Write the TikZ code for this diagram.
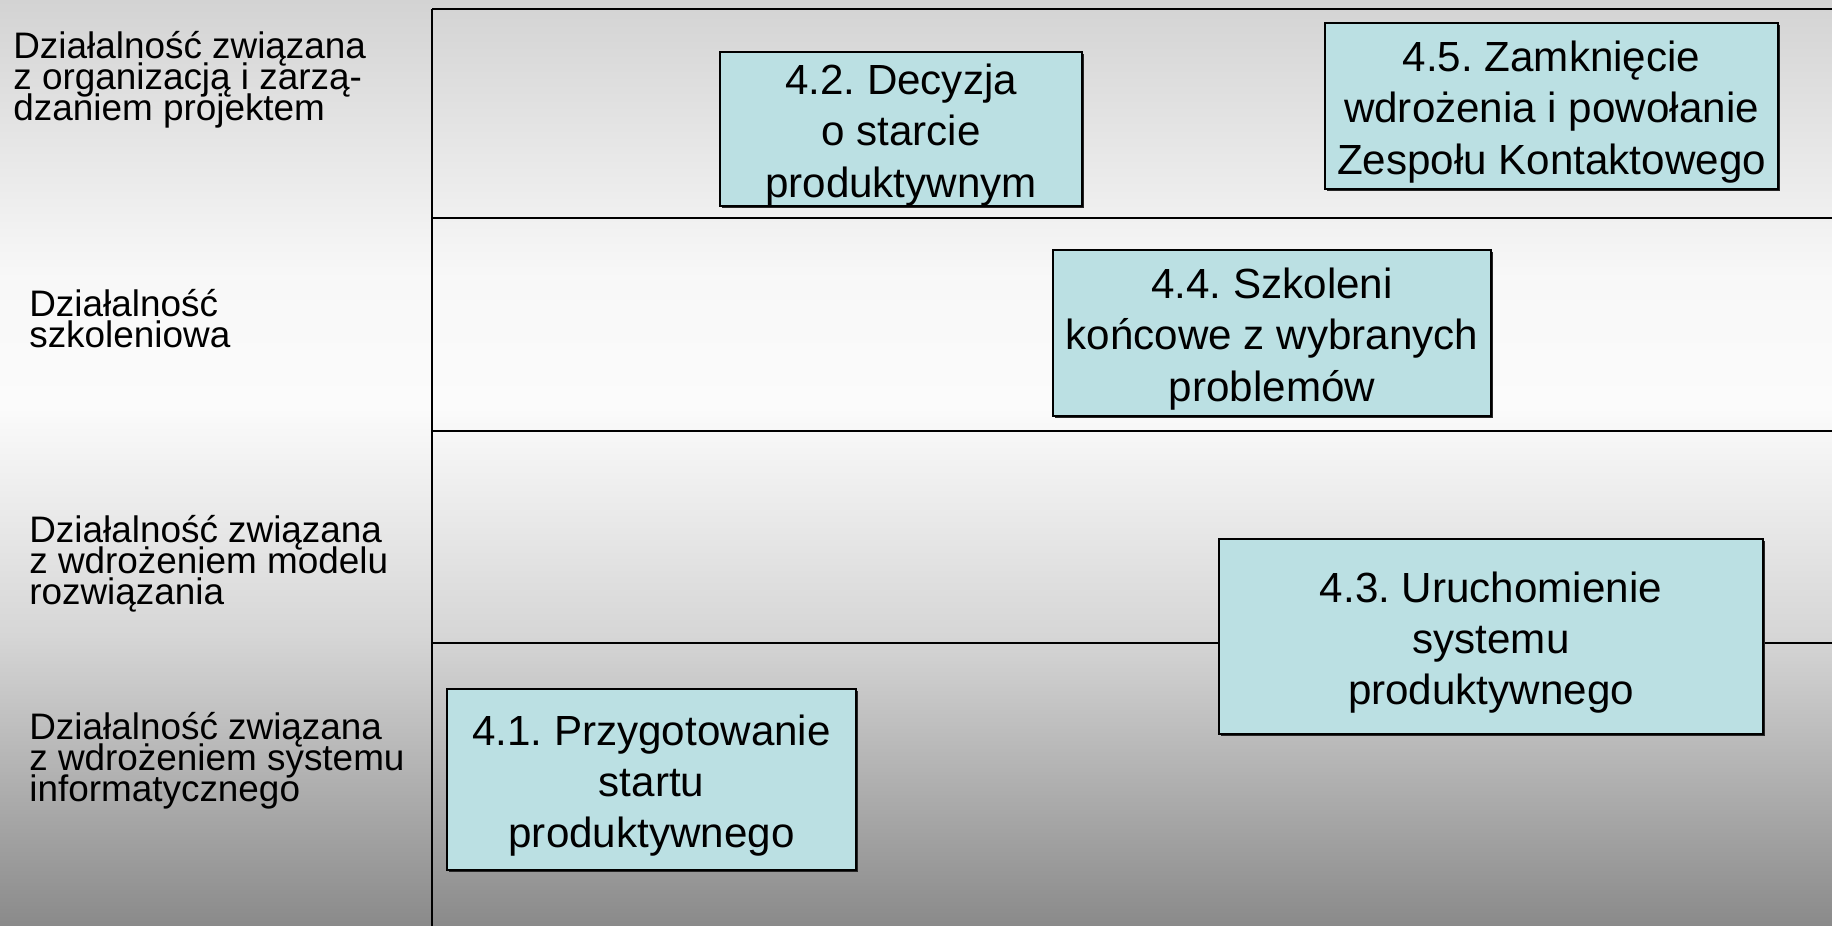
\documentclass[tikz,border=0pt]{standalone}
\usepackage{fontspec}
\setmainfont{Liberation Sans}
\usetikzlibrary{shadows}
\frenchspacing

\definecolor{tlo1}{HTML}{D3D3D3}
\definecolor{tlo2}{HTML}{F8F8F8}
\definecolor{tlo3}{HTML}{FBFBFB}
\definecolor{tlo4}{HTML}{D6D6D6}
\definecolor{tlo5}{HTML}{8A8A8A}
\definecolor{etap}{HTML}{BBE0E3}
\pgfdeclareverticalshading{tlo}{100bp}{color(0bp)=(tlo5); color(25bp)=(tlo5); color(40.7bp)=(tlo4); color(53bp)=(tlo3); color(60bp)=(tlo2); color(75bp)=(tlo1); color(100bp)=(tlo1)}
\newcommand{\torfont}{\fontsize{21}{17.6}\selectfont\lineskiplimit=-30pt\relax\lineskip=0pt\relax}

\tikzset{
  etapbox/.style={draw=black, line width=0.8pt, fill=etap, inner sep=0pt,
    align=center, font=\fontsize{24}{29.2}\selectfont,
    general shadow={fill=black!85, shadow xshift=1.1pt, shadow yshift=-1.1pt}},
  torlabel/.style={anchor=north west, inner sep=0pt, align=left, font=\torfont},
  torline/.style={line width=1.2pt, black}
}

\begin{document}
\begin{tikzpicture}[x=0.02cm, y=-0.02cm]
  % tlo
  \shade[shading=tlo] (0,0) rectangle (1832,926);
  \useasboundingbox (0,0) rectangle (1832,926);
  % tory
  \draw[torline] (432,9) -- (1832,9);
  \draw[torline] (432,218) -- (1832,218);
  \draw[torline] (432,431) -- (1832,431);
  \draw[torline] (432,643) -- (1832,643);
  \draw[torline] (432,9) -- (432,926);
  % opisy torow
  \node[torlabel] (org) at (13,31) {Działalność związana\\z organizacją i zarzą-\\dzaniem projektem};
  \node[torlabel] (szk) at (29,289) {Działalność\\szkoleniowa};
  \node[torlabel] (mod) at (29,515) {Działalność związana\\z wdrożeniem modelu\\rozwiązania};
  \node[torlabel] (sys) at (29,712) {Działalność związana\\z wdrożeniem systemu\\informatycznego};
  % etapy
  \node[etapbox, minimum width=7.24cm, minimum height=3cm] (e42) at (901,129) {\\[-5pt]4.2. Decyzja\\o starcie\\produktywnym};
  \node[etapbox, minimum width=9.06cm, minimum height=3.32cm] (e45) at (1551.5,106) {\\[-5pt]4.5. Zamknięcie\\wdrożenia i powołanie\\Zespołu Kontaktowego};
  \node[etapbox, minimum width=8.76cm, minimum height=3.32cm] (e44) at (1272,333) {\\[-5pt]4.4. Szkoleni\\końcowe z wybranych\\problemów};
  \node[etapbox, minimum width=10.88cm, minimum height=3.9cm] (e43) at (1491,636.5) {\\[-5pt]4.3. Uruchomienie\\systemu\\produktywnego};
  \node[etapbox, minimum width=8.18cm, minimum height=3.62cm] (e41) at (651.5,779.5) {\\[-5pt]4.1. Przygotowanie\\startu\\produktywnego};
\end{tikzpicture}
\end{document}
